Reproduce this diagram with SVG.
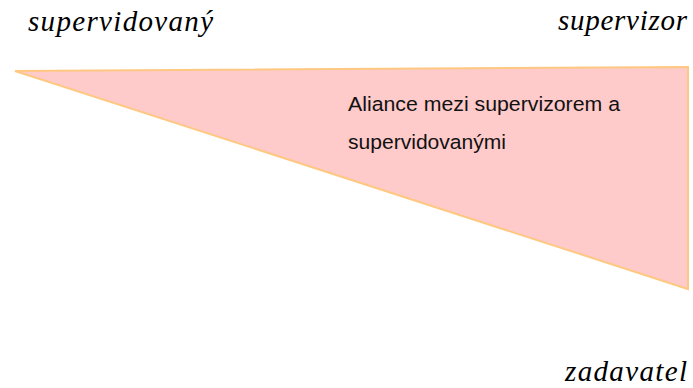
<svg xmlns="http://www.w3.org/2000/svg" width="693" height="388" viewBox="0 0 693 388">
  <style>
    .role { font-family: "Liberation Serif", "Times New Roman", serif; font-style: italic; font-size: 29px; fill: #000; }
    .body { font-family: "Liberation Sans", Arial, sans-serif; font-size: 20.5px; fill: #111; }
    .wedge { fill: #FFCACA; stroke: #FFC882; stroke-width: 2; stroke-linejoin: miter; }
  </style>
  <rect width="693" height="388" fill="#fff"/>
  <g id="alliance">
    <polygon class="wedge" points="15,71 688,67 688,289"/>
    <text class="body" x="348" y="111" textLength="272" lengthAdjust="spacingAndGlyphs">Aliance mezi supervizorem a</text>
    <text class="body" x="348" y="149" textLength="158" lengthAdjust="spacingAndGlyphs">supervidovanými</text>
  </g>
  <g id="supervisee">
    <text class="role" x="28" y="31" textLength="185" lengthAdjust="spacing">supervidovaný</text>
  </g>
  <g id="supervisor">
    <text class="role" x="558" y="30" textLength="129" lengthAdjust="spacing">supervizor</text>
  </g>
  <g id="client">
    <text class="role" x="565" y="381" textLength="122" lengthAdjust="spacing">zadavatel</text>
  </g>
</svg>
